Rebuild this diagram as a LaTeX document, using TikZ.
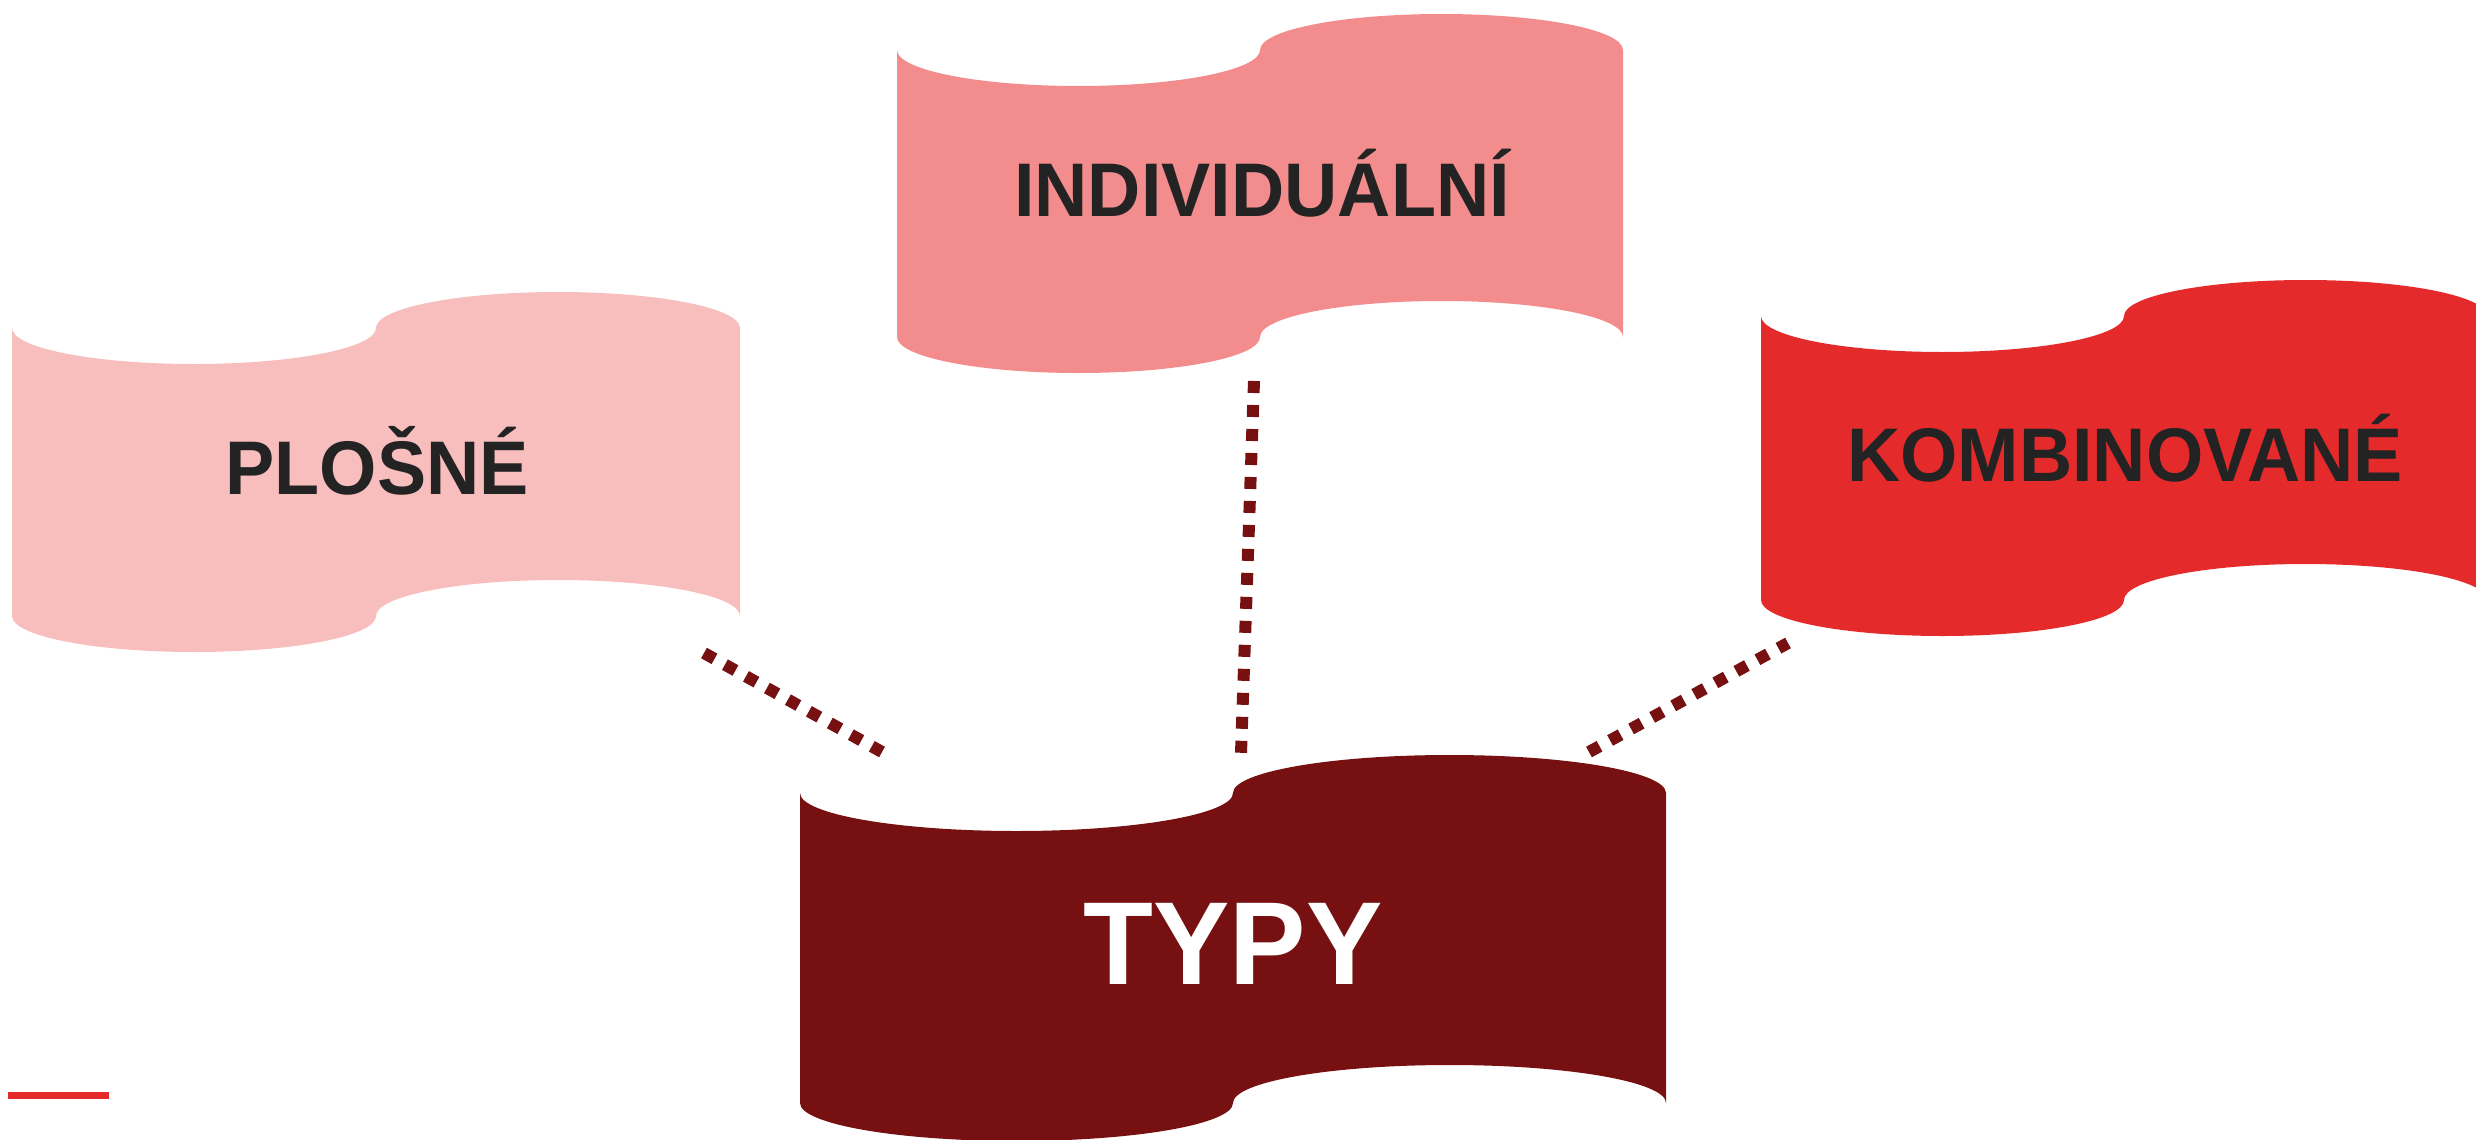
\documentclass[tikz,border=0pt]{standalone}
\usepackage{fontspec}
\setmainfont{Liberation Sans}
\newfontfamily\lblfont{Liberation Sans}[FakeStretch=0.97]
\definecolor{cPlosne}{HTML}{F8BDBD}
\definecolor{cIndiv}{HTML}{F38D8D}
\definecolor{cKomb}{HTML}{E52A2B}
\definecolor{cTypy}{HTML}{771010}
\definecolor{cText}{HTML}{232323}
\newcommand{\flagshape}[6]{%
  \fill[#1] (#2,#3)
    arc[start angle=180,end angle=0,x radius={#4/2},y radius=#6]
    arc[start angle=180,end angle=360,x radius={#4/2},y radius=#6]
    -- ++(0,#5)
    arc[start angle=360,end angle=180,x radius={#4/2},y radius=#6]
    arc[start angle=0,end angle=180,x radius={#4/2},y radius=#6]
    -- cycle;}
\tikzset{
  lbl/.style={anchor=base,inner sep=0pt,font=\lblfont\bfseries\fontsize{76}{80}\selectfont,text=cText},
  biglbl/.style={anchor=base,inner sep=0pt,font=\lblfont\bfseries\fontsize{118}{120}\selectfont,text=white},
  dotline/.style={draw=cTypy,line width=12pt,dash pattern=on 12pt off 12pt}
}
\begin{document}
\begin{tikzpicture}[x=1pt,y=-1pt]
\useasboundingbox (0,0) rectangle (2476,1140);
\clip (0,0) rectangle (2476,1140);
% connector end points
\coordinate (pl) at (704,653);
\coordinate (tl) at (882,752);
\coordinate (in) at (1254,381);
\coordinate (tm) at (1241,753);
\coordinate (ko) at (1788,643);
\coordinate (tr) at (1589,752);
\draw[dotline] (pl) -- (tl);
\draw[dotline] (in) -- (tm);
\draw[dotline] (tr) -- (ko);
% flags
\flagshape{cPlosne}{12}{328}{364}{288}{36}
\flagshape{cIndiv}{897}{50}{363}{287}{36}
\flagshape{cKomb}{1761}{316}{363}{284}{36}
\flagshape{cTypy}{800}{793}{433}{310}{38}
% labels
\node[lbl] (plosne) at (377,494) {PLOŠNÉ};
\node[lbl] (indiv) at (1262,216) {INDIVIDUÁLNÍ};
\node[lbl] (komb) at (2125,481) {KOMBINOVANÉ};
\node[biglbl] (typy) at (1233,984) {TYPY};
% red bar
\fill[cKomb] (8,1092) rectangle (109,1099);
\end{tikzpicture}
\end{document}
